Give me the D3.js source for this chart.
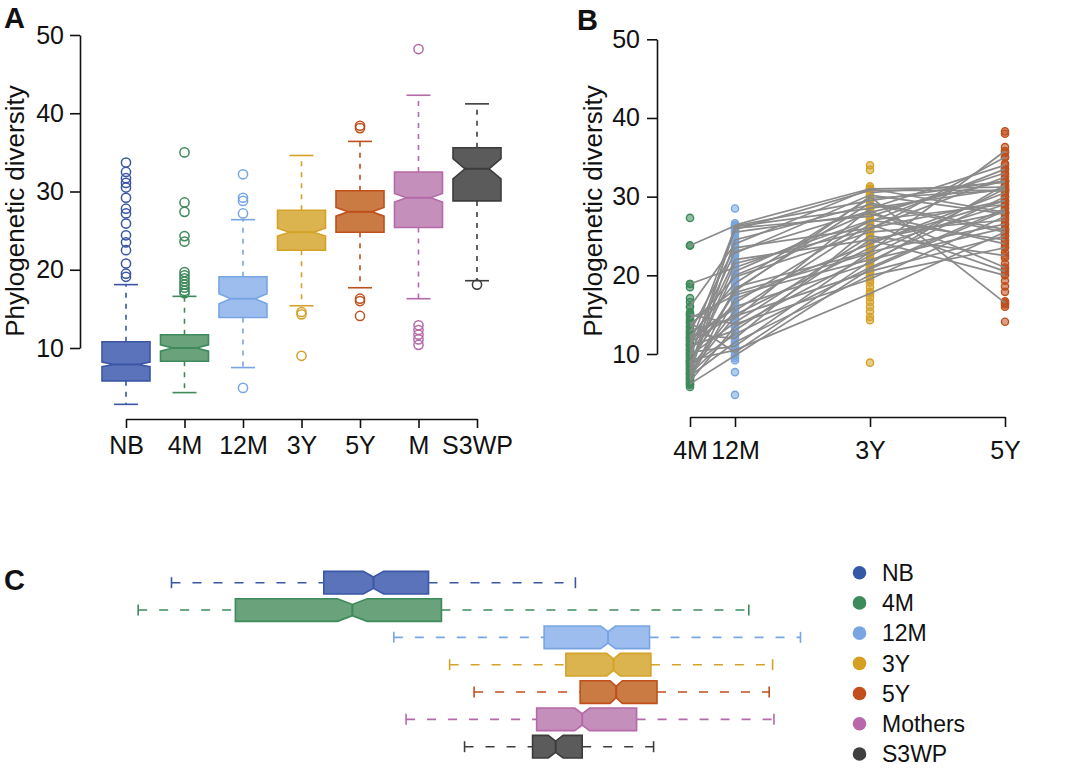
<!DOCTYPE html>
<html><head><meta charset="utf-8">
<script src="https://cdn.jsdelivr.net/npm/d3@7"></script>
<style>body{margin:0;background:#fff}svg{display:block;font-family:"Liberation Sans",Arial,Helvetica,sans-serif}</style>
</head><body><svg id="c" width="1080" height="779"></svg>
<script>
// ---------- DATA ----------
const groups = ["NB","4M","12M","3Y","5Y","M","S3WP"];
const legendLabels = ["NB","4M","12M","3Y","5Y","Mothers","S3WP"];
const strokeCols = ["#3a56a5","#3e8a5b","#78a5e2","#d4a229","#bf4f1c","#b469a8","#3c3c3c"];
const fillCols   = ["#5a73bb","#6aa27c","#9dbdee","#dcb44f","#c97b43","#c58fbb","#5b5b5b"];
const legendCols = ["#3558a6","#3d8a5c","#79a6e3","#d5a021","#c24e1d","#b967ab","#3f3f3f"];
const yTicks = [10,20,30,40,50];

// Panel A: notched boxplots of phylogenetic diversity
const loA    = [2.8, 4.3, 7.5, 15.4, 17.7, 16.3, 18.6];
const q1A    = [5.8, 8.3, 13.9, 22.5, 24.8, 25.4, 28.8];
const medA   = [7.9, 10.0, 16.3, 24.8, 27.4, 29.2, 32.9];
const q3A    = [10.8, 11.7, 19.1, 27.6, 30.1, 32.5, 35.6];
const hiA    = [18.1, 16.6, 26.4, 34.6, 36.4, 42.3, 41.2];
const notchA = [0.3, 0.4, 0.65, 0.5, 0.55, 0.55, 1.3];
const outNB  = [33.7, 32.5, 31.7, 31.1, 30.5, 29.2, 27.8, 27.2, 25.9, 24.4, 23.5, 22.5, 20.8, 19.5, 19.1];
const out4M  = [35.0, 28.6, 27.4, 24.3, 23.6, 19.7, 19.3, 18.9, 18.5, 18.1, 17.7, 17.3, 17.0];
const out12M = [32.2, 29.2, 28.8, 27.2, 4.9];
const out3Y  = [14.6, 14.3, 9.0];
const out5Y  = [38.4, 38.1, 16.3, 16.0, 14.1];
const outM   = [48.2, 12.9, 12.3, 11.7, 11.1, 10.4];
const outS3  = [18.1];
const outA = [outNB, out4M, out12M, out3Y, out5Y, outM, outS3];

// Panel B: longitudinal samples (time in months)
const timeLabels = ["4M","12M","3Y","5Y"];
const timeMonths = [4, 12, 36, 60];
const pts4M  = [5.8, 6.1, 6.3, 6.7, 7.0, 7.4, 7.7, 8.1, 8.3, 8.8, 9.1, 9.4, 9.7, 10.1, 10.4, 10.6, 11.1, 11.3, 11.7, 12.1, 12.4, 12.7, 13.2, 13.5, 14.1, 14.3, 14.8, 15.1, 15.3, 16.0, 16.6, 17.1, 18.5, 18.9, 23.8, 27.3];
const pts12M = [4.8, 7.7, 9.2, 9.5, 9.8, 10.3, 10.8, 11.3, 11.8, 12.3, 12.9, 13.4, 14.1, 14.6, 15.2, 15.7, 16.3, 16.8, 17.3, 17.9, 18.4, 19.1, 19.6, 20.3, 20.9, 21.4, 21.9, 22.5, 23.1, 23.8, 24.3, 24.8, 25.3, 26.0, 26.6, 28.5];
const pts3Y  = [8.9, 14.3, 14.7, 15.4, 16.0, 16.6, 17.2, 17.9, 18.5, 19.1, 19.8, 20.4, 21.1, 21.6, 22.2, 22.9, 23.5, 24.1, 24.8, 25.3, 25.9, 26.6, 27.2, 27.8, 28.3, 28.9, 29.5, 30.1, 30.6, 31.0, 31.3, 33.4, 34.0];
const pts5Y  = [14.1, 16.0, 16.3, 16.7, 17.9, 18.6, 19.3, 20.1, 20.8, 21.5, 22.2, 22.9, 23.6, 24.3, 25.1, 25.8, 26.5, 27.2, 27.9, 28.6, 29.3, 30.0, 30.7, 31.4, 32.1, 32.8, 33.5, 34.2, 35.0, 35.6, 36.3, 38.0, 38.3];
const ptsB = [pts4M, pts12M, pts3Y, pts5Y];
// individual trajectories [4M, 12M, 3Y, 5Y]
const subjects = [
  [8.0, 26.2, 28.5, 31.0], [9.5, 25.8, 30.8, 30.8], [11.2, 26.0, 27.5, 33.0], [7.5, 24.5, 29.0, 25.5],
  [12.8, 23.5, 26.0, 29.5], [10.0, 22.0, 24.5, 28.0], [8.8, 20.5, 28.0, 32.0], [13.5, 19.8, 25.5, 27.0],
  [7.0, 18.5, 23.0, 35.8], [9.0, 18.0, 30.0, 16.5], [14.5, 17.5, 22.0, 26.0], [6.8, 17.0, 24.0, 30.5],
  [10.5, 16.5, 27.0, 24.5], [12.0, 16.0, 21.5, 31.5], [8.2, 15.5, 26.5, 20.5], [11.5, 15.0, 23.5, 29.0],
  [7.8, 14.8, 20.5, 25.0], [13.0, 14.5, 28.5, 34.0], [9.8, 14.0, 25.0, 22.5], [15.0, 13.8, 19.5, 27.5],
  [6.5, 13.5, 22.5, 31.0], [11.0, 13.0, 24.5, 20.0], [8.5, 12.5, 21.0, 28.5], [12.5, 12.0, 26.0, 32.5],
  [7.2, 11.5, 20.0, 23.5], [10.2, 11.0, 23.0, 26.5], [9.2, 10.5, 17.7, 25.5], [14.0, 10.2, 21.8, 30.0],
  [23.8, 26.3, 29.5, 32.0], [18.9, 21.0, 27.0, 29.0], [16.0, 24.0, 31.0, 28.0], [12.2, 19.0, 29.8, 30.8],
  [8.6, 21.5, 25.8, 35.0], [10.8, 23.0, 28.2, 21.0], [null, 26.4, 31.0, 31.2], [null, 25.5, 27.8, 24.0],
  [9.0, 17.8, 22.8, null], [null, 20.0, 26.8, 33.5], [11.8, 15.8, null, null], [7.5, 12.8, null, null],
  [null, null, 24.2, 29.5], [null, null, 30.5, 31.8], [null, 22.8, 30.2, 27.8], [13.8, 18.2, 29.2, 25.8],
  [6.2, 9.8, 20.8, 28.2]
];

// Panel C: horizontal notched boxplots (arbitrary units)
const loC    = [6.1, 1.2, 38.8, 47.0, 50.6, 40.6, 49.2];
const q1C    = [28.5, 15.5, 60.9, 64.1, 66.2, 59.8, 59.2];
const medC   = [35.8, 32.7, 70.3, 71.1, 71.5, 66.5, 62.6];
const q3C    = [43.9, 45.8, 76.4, 76.6, 77.5, 74.5, 66.5];
const hiC    = [65.5, 91.0, 98.6, 94.5, 94.0, 94.7, 77.0];
const notchC = [1.5, 2.2, 1.1, 1.0, 0.9, 1.1, 1.1];

// ---------- DRAW ----------
const svg = d3.select("#c");
const FONT = 25;

function panelLabel(t, x, y){
  svg.append("text").attr("x", x).attr("y", y).attr("font-size", 29).attr("font-weight", "bold").attr("fill","#111").text(t);
}

// ===== Panel A =====
const yA = d3.scaleLinear().domain([10,50]).range([348,35]);
const xA = d3.scalePoint().domain(groups).range([126,477]);
const gA = svg.append("g");
const yAxA = d3.axisLeft(yA).tickValues(yTicks).tickSize(10).tickPadding(6).tickSizeOuter(0);
gA.append("g").attr("transform","translate(80,0)").call(yAxA);
const xAxA = d3.axisBottom(xA).tickSize(9).tickPadding(8).tickSizeOuter(0);
gA.append("g").attr("transform","translate(0,419)").call(xAxA);
gA.append("text").attr("transform","translate(24,211) rotate(-90)").attr("text-anchor","middle")
  .attr("font-size",26).attr("fill","#111").text("Phylogenetic diversity");

const bwA = 24;
groups.forEach((g,i)=>{
  const x = xA(g), c = strokeCols[i];
  const dash = "5,6";
  gA.append("line").attr("x1",x).attr("x2",x).attr("y1",yA(q3A[i])).attr("y2",yA(hiA[i]))
    .attr("stroke",c).attr("stroke-width",1.6).attr("stroke-dasharray",dash);
  gA.append("line").attr("x1",x).attr("x2",x).attr("y1",yA(q1A[i])).attr("y2",yA(loA[i]))
    .attr("stroke",c).attr("stroke-width",1.6).attr("stroke-dasharray",dash);
  [hiA[i], loA[i]].forEach(v=>gA.append("line").attr("x1",x-bwA/2).attr("x2",x+bwA/2)
    .attr("y1",yA(v)).attr("y2",yA(v)).attr("stroke",c).attr("stroke-width",1.6));
  const n = notchA[i];
  const pts = [[x-bwA,yA(q1A[i])],[x-bwA,yA(medA[i]-n)],[x-bwA/2,yA(medA[i])],[x-bwA,yA(medA[i]+n)],[x-bwA,yA(q3A[i])],
               [x+bwA,yA(q3A[i])],[x+bwA,yA(medA[i]+n)],[x+bwA/2,yA(medA[i])],[x+bwA,yA(medA[i]-n)],[x+bwA,yA(q1A[i])]];
  gA.append("polygon").attr("points",pts.map(p=>p.join(",")).join(" "))
    .attr("fill",fillCols[i]).attr("stroke",c).attr("stroke-width",1.6);
  gA.append("line").attr("x1",x-bwA/2).attr("x2",x+bwA/2).attr("y1",yA(medA[i])).attr("y2",yA(medA[i]))
    .attr("stroke",c).attr("stroke-width",2);
  gA.selectAll(null).data(outA[i]).enter().append("circle")
    .attr("cx",x).attr("cy",d=>yA(d)).attr("r",4.6).attr("fill","none").attr("stroke",c).attr("stroke-width",1.5);
});

// ===== Panel B =====
const yB = d3.scaleLinear().domain([10,50]).range([354,39.3]);
const xB = d3.scaleLinear().domain([4,60]).range([690,1005]);
const gB = svg.append("g");
const yAxB = d3.axisLeft(yB).tickValues(yTicks).tickSize(10).tickPadding(7).tickSizeOuter(0);
gB.append("g").attr("transform","translate(657,0)").call(yAxB);
const xAxB = d3.axisBottom(xB).tickValues(timeMonths).tickFormat((d,i)=>timeLabels[i]).tickSize(10).tickPadding(14).tickSizeOuter(0);
gB.append("g").attr("transform","translate(0,417)").call(xAxB);
gB.append("text").attr("transform","translate(602,211) rotate(-90)").attr("text-anchor","middle")
  .attr("font-size",26).attr("fill","#111").text("Phylogenetic diversity");

const bIdx = [1,2,3,4];
ptsB.forEach((arr,j)=>{
  const c = strokeCols[bIdx[j]];
  gB.selectAll(null).data(arr).enter().append("circle")
    .attr("cx",xB(timeMonths[j])).attr("cy",d=>yB(d)).attr("r",3.6)
    .attr("fill",c).attr("fill-opacity",0.55).attr("stroke",c).attr("stroke-width",1.4);
});
subjects.forEach(s=>{
  s.forEach((v,j)=>{
    if (v==null) return;
    const c = strokeCols[bIdx[j]];
    gB.append("circle").attr("cx",xB(timeMonths[j])).attr("cy",yB(v)).attr("r",3.6)
      .attr("fill",c).attr("fill-opacity",0.55).attr("stroke",c).attr("stroke-width",1.4);
  });
});
const lineGen = d3.line().defined(d=>d.v!=null).x(d=>xB(d.t)).y(d=>yB(d.v));
subjects.forEach(s=>{
  const data = s.map((v,j)=>({t:timeMonths[j], v}));
  gB.append("path").attr("d", lineGen(data)).attr("fill","none").attr("stroke","#8a8a8a").attr("stroke-width",1.7);
});

// axis styling
svg.selectAll(".tick text").attr("font-size",FONT).attr("fill","#111").attr("font-family","Liberation Sans, Arial, sans-serif");
svg.selectAll(".domain, .tick line").attr("stroke","#111").attr("stroke-width",1.6);

// ===== Panel C =====
const xC = d3.scaleLinear().domain([0,100]).range([130,810]);
const yC = d3.scalePoint().domain(groups).range([582.7,746.7]);
const gC = svg.append("g");
const bhC = 11.3;
groups.forEach((g,i)=>{
  const y = yC(g), c = strokeCols[i];
  gC.append("line").attr("x1",xC(loC[i])).attr("x2",xC(q1C[i])).attr("y1",y).attr("y2",y)
    .attr("stroke",c).attr("stroke-width",1.6).attr("stroke-dasharray","9,12");
  gC.append("line").attr("x1",xC(q3C[i])).attr("x2",xC(hiC[i])).attr("y1",y).attr("y2",y)
    .attr("stroke",c).attr("stroke-width",1.6).attr("stroke-dasharray","9,12");
  [loC[i], hiC[i]].forEach(v=>gC.append("line").attr("x1",xC(v)).attr("x2",xC(v))
    .attr("y1",y-5.5).attr("y2",y+5.5).attr("stroke",c).attr("stroke-width",1.6));
  const n = notchC[i];
  const pts = [[xC(q1C[i]),y-bhC],[xC(medC[i]-n),y-bhC],[xC(medC[i]),y-bhC/2],[xC(medC[i]+n),y-bhC],[xC(q3C[i]),y-bhC],
               [xC(q3C[i]),y+bhC],[xC(medC[i]+n),y+bhC],[xC(medC[i]),y+bhC/2],[xC(medC[i]-n),y+bhC],[xC(q1C[i]),y+bhC]];
  gC.append("polygon").attr("points",pts.map(p=>p.join(",")).join(" "))
    .attr("fill",fillCols[i]).attr("stroke",c).attr("stroke-width",1.6);
  gC.append("line").attr("x1",xC(medC[i])).attr("x2",xC(medC[i])).attr("y1",y-bhC/2).attr("y2",y+bhC/2)
    .attr("stroke",c).attr("stroke-width",2);
});

// legend
const yL = d3.scalePoint().domain(legendLabels).range([572.7,754]);
legendLabels.forEach((l,i)=>{
  svg.append("circle").attr("cx",859.5).attr("cy",yL(l)).attr("r",6.8).attr("fill",legendCols[i]);
  svg.append("text").attr("x",882).attr("y",yL(l)).attr("dy","0.36em").attr("font-size",23).attr("fill","#111").text(l);
});

panelLabel("A", 4, 28);
panelLabel("B", 577, 30);
panelLabel("C", 4, 590);
</script></body></html>
